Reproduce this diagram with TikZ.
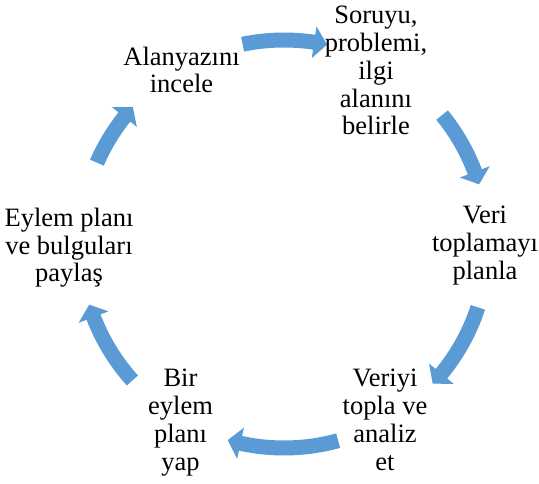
\documentclass[tikz,border=0pt]{standalone}
\usepackage{fontspec}
\setmainfont{Liberation Serif}
\definecolor{arrowblue}{HTML}{5B9BD5}
\tikzset{
  lbl/.style={align=center, inner sep=0pt, anchor=base,
    font=\fontsize{26.5}{27.8}\selectfont\lineskiplimit-100pt\lineskip0pt},
  arrowfill/.style={fill=arrowblue, draw=none}
}
\newcommand\Rmid{204}
\newcommand\Rout{211.5}
\newcommand\Rin{196.5}
\newcommand\Hout{220}
\newcommand\Hin{188}
\newcommand\cycarrow[2]{%
  \pgfmathsetmacro\hb{#2+3.7}%
  \fill[arrowfill] (#1:\Rout) arc[start angle=#1, end angle=\hb, radius=\Rout]
    -- (\hb:\Hout) -- (#2:\Rmid) -- (\hb:\Hin) -- (\hb:\Rin)
    arc[start angle=\hb, end angle=#1, radius=\Rin] -- cycle;}
\begin{document}
\begin{tikzpicture}[x=1pt,y=1pt]
\useasboundingbox (0,0) rectangle (539,483);
\coordinate (O) at (284,239);
\begin{scope}[shift={(O)}]
  \cycarrow{101.7}{77.8}
  \cycarrow{39.2}{17}
  \cycarrow{-18.1}{-43.2}
  \cycarrow{-74.6}{-106}
  \cycarrow{222}{197.3}
  \cycarrow{156.5}{137.8}
\end{scope}
\node[lbl] (n1) at (181.5,390) {Alanyazını\\incele};
\node[lbl] (n2) at (376,348) {Soruyu,\\problemi,\\ilgi\\alanını\\belirle};
\node[lbl] (n3) at (485,204) {Veri\\toplamayı\\planla};
\node[lbl] (n4) at (385,13) {Veriyi\\topla ve\\analiz\\et};
\node[lbl] (n5) at (180.5,13) {Bir\\eylem\\planı\\yap};
\node[lbl] (n6) at (69,201) {Eylem planı\\ve bulguları\\paylaş};
\end{tikzpicture}
\end{document}
